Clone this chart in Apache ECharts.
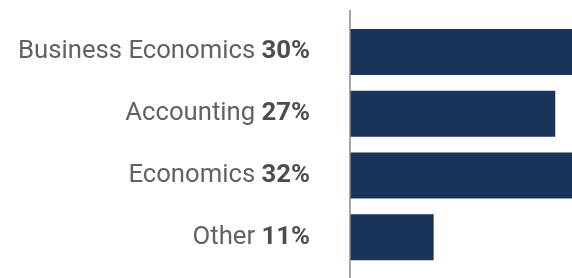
<!DOCTYPE html>
<html>
<head>
<meta charset="utf-8">
<script src="https://cdn.jsdelivr.net/npm/echarts@6/dist/echarts.min.js"></script>
<style>
  html, body { margin: 0; padding: 0; background: #fff; }
  #chart { width: 572px; height: 278px; }
</style>
</head>
<body>
<div id="chart"></div>
<script>
const categories = ['Business Economics', 'Accounting', 'Economics', 'Other'];
const shares = [30, 27, 32, 11];

const chartDom = document.getElementById('chart');
const myChart = echarts.init(chartDom);

// bars run past the right edge in the original, so the axis max is cut short
const option = {
  backgroundColor: '#ffffff',
  animation: false,
  grid: {
    left: 350,
    right: 0,
    top: 21,
    bottom: 10
  },
  xAxis: {
    type: 'value',
    min: 0,
    max: 29.2,
    show: false
  },
  yAxis: {
    type: 'category',
    inverse: true,
    data: categories,
    axisLine: { show: false },
    axisTick: { show: false },
    axisLabel: {
      margin: 40,
      formatter: function (value, idx) {
        return value + ' {b|' + shares[idx] + '%}';
      },
      color: '#5f6368',
      fontFamily: 'Roboto',
      fontSize: 25.7,
      rich: {
        b: {
          fontFamily: 'Roboto',
          fontSize: 25.7,
          fontWeight: 'bold',
          color: '#4a4d52'
        }
      }
    }
  },
  graphic: [
    {
      type: 'line',
      shape: { x1: 350, y1: 10, x2: 350, y2: 278 },
      style: { stroke: '#8a8a8a', lineWidth: 1.5 },
      z: 10
    }
  ],
  series: [
    {
      type: 'bar',
      data: shares,
      barWidth: 46,
      clip: true,
      itemStyle: { color: '#19345a' }
    }
  ]
};

option && myChart.setOption(option);
</script>
</body>
</html>
